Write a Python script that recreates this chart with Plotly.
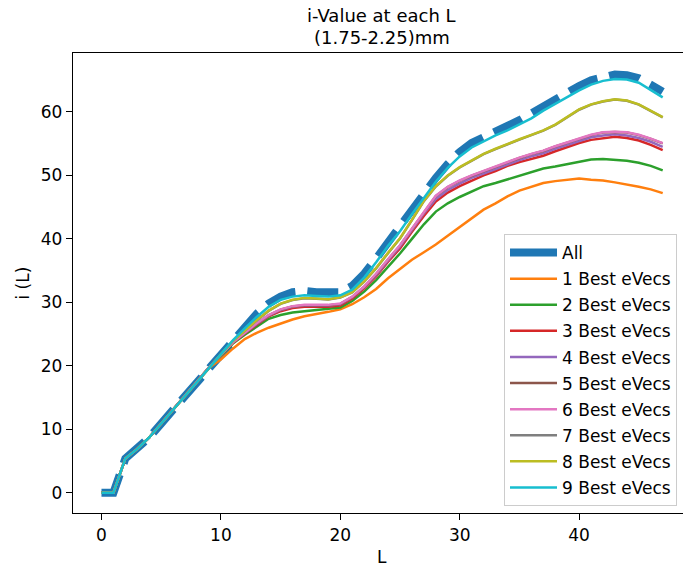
import plotly.graph_objects as go

L = list(range(48))

base = [0, 0, 5.4, 6.9, 8.7, 10.9, 13.1, 15.3, 17.5, 19.7]

all_vals = base + [21.9, 24.1, 26.3, 28.2, 29.8, 30.9, 31.6, 31.8, 31.6, 31.5,
                   31.6, 32.6, 34.5, 36.9, 39.5, 41.8, 44.5, 47.1, 49.6, 51.8,
                   53.7, 55.1, 56.1, 57.0, 57.8, 58.7, 59.8, 61.0, 62.1, 63.2,
                   64.1, 65.0, 65.6, 65.9, 65.8, 65.3, 64.3, 63.2]
ev1 = base + [21.0, 22.7, 24.2, 25.2, 26.0, 26.7, 27.3, 27.8, 28.1, 28.5,
              28.9, 29.7, 30.8, 32.1, 33.8, 35.3, 36.7, 37.9, 39.1, 40.5,
              41.9, 43.3, 44.6, 45.6, 46.7, 47.6, 48.2, 48.8, 49.1, 49.3,
              49.5, 49.3, 49.2, 48.9, 48.6, 48.2, 47.8, 47.2]
ev2 = base + [21.6, 23.5, 24.9, 26.2, 27.4, 28.0, 28.4, 28.6, 28.8, 29.0,
              29.2, 30.2, 31.7, 33.5, 35.6, 37.7, 40.0, 42.3, 44.3, 45.6,
              46.6, 47.4, 48.3, 48.8, 49.4, 50.0, 50.6, 51.1, 51.4, 51.8,
              52.2, 52.5, 52.6, 52.5, 52.3, 52.0, 51.5, 50.8]
ev3 = base + [21.7, 23.6, 25.1, 26.5, 27.8, 28.6, 29.1, 29.3, 29.3, 29.3,
              29.5, 30.6, 32.2, 34.1, 36.4, 38.5, 41.1, 43.6, 45.9, 47.3,
              48.3, 49.2, 50.0, 50.7, 51.5, 52.1, 52.6, 53.1, 53.8, 54.5,
              55.1, 55.6, 55.9, 56.1, 55.9, 55.5, 54.8, 54.0]
ev4 = base + [21.7, 23.65, 25.15, 26.6, 27.9, 28.8, 29.3, 29.5, 29.5, 29.5,
              29.7, 30.8, 32.4, 34.3, 36.6, 38.8, 41.4, 44.0, 46.3, 47.7,
              48.7, 49.6, 50.3, 51.0, 51.8, 52.4, 53.0, 53.5, 54.2, 54.8,
              55.5, 56.0, 56.3, 56.5, 56.3, 55.9, 55.3, 54.5]
ev5 = base + [21.7, 23.7, 25.2, 26.65, 27.95, 28.85, 29.35, 29.55, 29.55, 29.55,
              29.75, 30.85, 32.45, 34.45, 36.75, 38.95, 41.55, 44.25, 46.75, 48.15,
              49.15, 49.95, 50.65, 51.35, 52.15, 52.75, 53.35, 53.85, 54.55, 55.15,
              55.85, 56.35, 56.75, 56.85, 56.75, 56.35, 55.75, 55.05]
ev6 = base + [21.7, 23.7, 25.2, 26.7, 28.0, 28.9, 29.4, 29.6, 29.6, 29.6,
              29.8, 30.9, 32.5, 34.5, 36.8, 39.0, 41.6, 44.3, 46.8, 48.2,
              49.2, 50.0, 50.7, 51.4, 52.2, 52.8, 53.4, 53.9, 54.6, 55.2,
              55.9, 56.4, 56.8, 56.9, 56.8, 56.4, 55.8, 55.1]
ev7 = base + [21.8, 23.9, 25.6, 27.15, 28.65, 29.75, 30.35, 30.65, 30.55, 30.45,
              30.75, 31.55, 33.25, 35.35, 37.75, 40.05, 42.95, 45.95, 48.25, 49.95,
              51.25, 52.35, 53.35, 54.15, 54.95, 55.65, 56.35, 57.05, 57.95, 59.15,
              60.35, 61.15, 61.65, 61.95, 61.75, 61.15, 60.15, 59.15]
ev8 = base + [21.8, 23.9, 25.6, 27.2, 28.7, 29.8, 30.4, 30.7, 30.6, 30.5,
              30.8, 31.6, 33.3, 35.4, 37.8, 40.1, 43.0, 46.0, 48.3, 50.0,
              51.3, 52.4, 53.4, 54.2, 55.0, 55.7, 56.4, 57.1, 58.0, 59.2,
              60.4, 61.2, 61.7, 62.0, 61.8, 61.2, 60.2, 59.2]
ev9 = base + [21.9, 24.0, 25.9, 27.7, 29.3, 30.4, 30.9, 31.1, 31.0, 30.9,
              31.1, 32.0, 33.9, 36.3, 38.9, 41.2, 43.9, 46.5, 49.0, 51.2,
              53.0, 54.4, 55.4, 56.3, 57.1, 58.0, 59.0, 60.2, 61.3, 62.4,
              63.4, 64.3, 64.9, 65.2, 65.1, 64.6, 63.5, 62.3]

series_names = ["All"] + [f"{k} Best eVecs" for k in range(1, 10)]
series_vals = [all_vals, ev1, ev2, ev3, ev4, ev5, ev6, ev7, ev8, ev9]
colors = ["#1f77b4", "#ff7f0e", "#2ca02c", "#d62728", "#9467bd",
          "#8c564b", "#e377c2", "#7f7f7f", "#bcbd22", "#17becf"]

title_lines = ["i-Value at each L", "(1.75-2.25)mm"]

FONT = "DejaVu Sans"

fig = go.Figure()
for i, (name, vals, col) in enumerate(zip(series_names, series_vals, colors)):
    if i == 0:
        # data line (dashed) plus a solid legend handle like the reference
        fig.add_trace(go.Scatter(x=L, y=vals, mode="lines", name=name,
                                 line=dict(color=col, width=8, dash="31px,12px"),
                                 legendgroup=f"g{i}", showlegend=False))
        fig.add_trace(go.Scatter(x=[None], y=[None], mode="lines", name=name,
                                 line=dict(color=col, width=8),
                                 legendgroup=f"g{i}", showlegend=True))
    else:
        fig.add_trace(go.Scatter(x=L, y=vals, mode="lines", name=name,
                                 line=dict(color=col, width=2.5),
                                 legendgroup=f"g{i}"))

W, H = 683, 569
ml, mr, mt, mb = 72.5, 0, 52.7, 56
pw = W - ml - mr
ph = H - mt - mb

axis_common = dict(
    showgrid=False, zeroline=False, showline=True, linecolor="black",
    linewidth=1.3, ticks="outside", ticklen=6, tickwidth=1.3, tickcolor="black",
    tickfont=dict(family=FONT, size=17, color="black"),
)

xc = (381.7 - ml) / pw

annotations = [
    dict(text=title_lines[0], x=xc, y=(513 - 15) / ph, xref="paper", yref="paper",
         xanchor="center", yanchor="middle", showarrow=False,
         font=dict(family=FONT, size=18, color="black")),
    dict(text=title_lines[1], x=xc, y=(513 - 37) / ph, xref="paper", yref="paper",
         xanchor="center", yanchor="middle", showarrow=False,
         font=dict(family=FONT, size=18, color="black")),
    dict(text="L", x=xc, y=(513 - 557) / ph, xref="paper",
         yref="paper", xanchor="center", yanchor="middle", showarrow=False,
         font=dict(family=FONT, size=17, color="black")),
    dict(text="i (L)", x=(22 - ml) / pw, y=0.5, xref="paper", yref="paper",
         xanchor="center", yanchor="middle", showarrow=False, textangle=-90,
         font=dict(family=FONT, size=17, color="black")),
]

fig.update_layout(
    width=W, height=H,
    margin=dict(l=ml, r=mr, t=mt, b=mb, pad=0),
    paper_bgcolor="white", plot_bgcolor="white",
    xaxis=dict(range=[-2.385, 48.70], tickvals=[0, 10, 20, 30, 40],
               mirror=True, **axis_common),
    yaxis=dict(range=[-3.197, 69.29], tickvals=[0, 10, 20, 30, 40, 50, 60],
               mirror=False, **axis_common),
    legend=dict(x=(677 - ml) / pw, xanchor="right", y=(513 - 506) / ph,
                yanchor="bottom", bgcolor="rgba(255,255,255,0.8)",
                bordercolor="#cccccc", borderwidth=1,
                font=dict(family=FONT, size=17, color="black"),
                tracegroupgap=1, itemwidth=47),
    showlegend=True,
    annotations=annotations,
)

fig.write_html("out.html")
